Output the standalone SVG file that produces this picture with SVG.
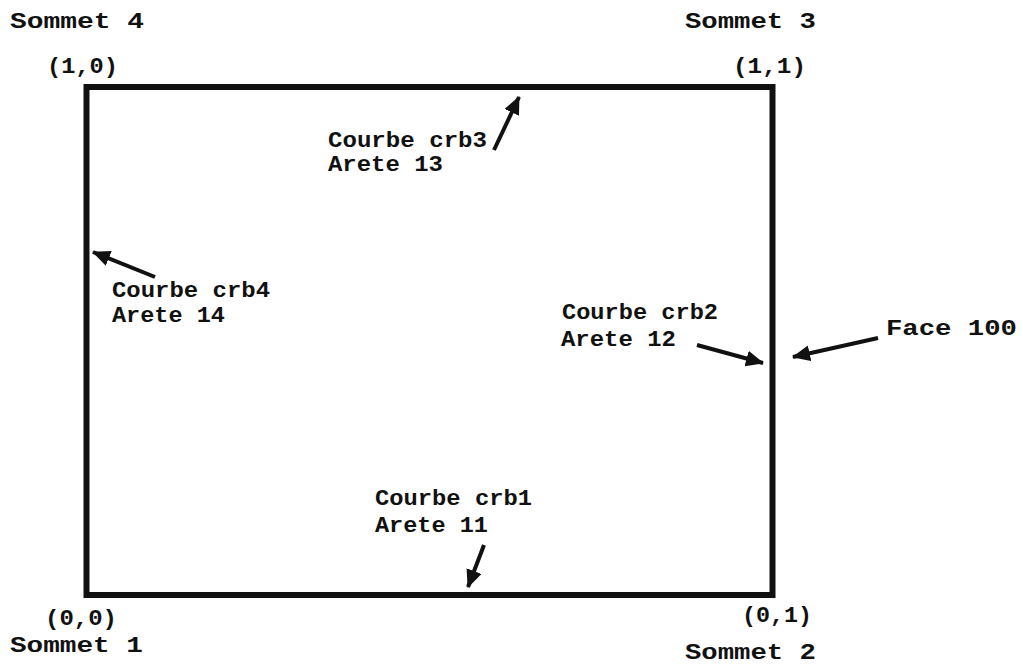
<svg xmlns="http://www.w3.org/2000/svg" width="1023" height="666" viewBox="0 0 1023 666">
<style>
text{font-family:"Liberation Mono","Courier New",monospace;font-weight:bold;font-size:22px;fill:#111}
.edge{fill:none;stroke:#111;stroke-width:6}
.conn{stroke:#111;stroke-width:4;fill:none}
</style>
<defs>
<marker id="ah" markerUnits="userSpaceOnUse" markerWidth="20" markerHeight="16" refX="17" refY="8" orient="auto">
<path d="M0,0 L18,8 L0,16 Z" fill="#111"/>
</marker>
</defs>
<rect width="1023" height="666" fill="#fff"/>
<g id="face100">
<rect class="edge" x="86.5" y="87" width="686" height="508"/>
</g>
<g id="sommet4"><text x="10" y="28" textLength="134" lengthAdjust="spacingAndGlyphs">Sommet 4</text><text x="47" y="73" textLength="71" lengthAdjust="spacingAndGlyphs">(1,0)</text></g>
<g id="sommet3"><text x="685" y="28" textLength="131" lengthAdjust="spacingAndGlyphs">Sommet 3</text><text x="733" y="73" textLength="73" lengthAdjust="spacingAndGlyphs">(1,1)</text></g>
<g id="sommet1"><text x="45" y="625" textLength="72" lengthAdjust="spacingAndGlyphs">(0,0)</text><text x="10" y="652" textLength="133" lengthAdjust="spacingAndGlyphs">Sommet 1</text></g>
<g id="sommet2"><text x="742" y="622" textLength="70" lengthAdjust="spacingAndGlyphs">(0,1)</text><text x="685" y="659" textLength="131" lengthAdjust="spacingAndGlyphs">Sommet 2</text></g>
<g id="arete13"><text x="328" y="147" textLength="159" lengthAdjust="spacingAndGlyphs">Courbe crb3</text><text x="328" y="171" textLength="115" lengthAdjust="spacingAndGlyphs">Arete 13</text></g>
<g id="arete14"><text x="112" y="297" textLength="158" lengthAdjust="spacingAndGlyphs">Courbe crb4</text><text x="112" y="322" textLength="113" lengthAdjust="spacingAndGlyphs">Arete 14</text></g>
<g id="arete12"><text x="562" y="319" textLength="156" lengthAdjust="spacingAndGlyphs">Courbe crb2</text><text x="561" y="346" textLength="115" lengthAdjust="spacingAndGlyphs">Arete 12</text></g>
<g id="arete11"><text x="375" y="505" textLength="157" lengthAdjust="spacingAndGlyphs">Courbe crb1</text><text x="375" y="532" textLength="113" lengthAdjust="spacingAndGlyphs">Arete 11</text></g>
<g id="label-face"><text x="886" y="335" textLength="131" lengthAdjust="spacingAndGlyphs">Face 100</text></g>
<g id="connectors">
<line class="conn" x1="494" y1="150" x2="519" y2="97" marker-end="url(#ah)"/>
<line class="conn" x1="155" y1="277" x2="93" y2="252" marker-end="url(#ah)"/>
<line class="conn" x1="697" y1="345" x2="763" y2="363" marker-end="url(#ah)"/>
<line class="conn" x1="878" y1="338" x2="793" y2="357" marker-end="url(#ah)"/>
<line class="conn" x1="484" y1="545" x2="468" y2="587" marker-end="url(#ah)"/>
</g>
</svg>
